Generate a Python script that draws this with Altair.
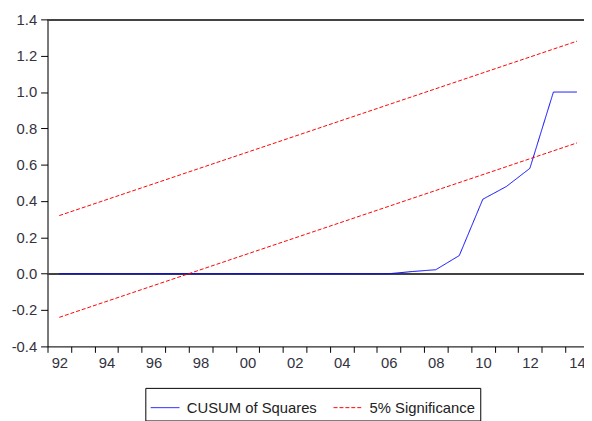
import altair as alt
import pandas as pd

# Annual observations
years = list(range(1992, 2015))
cusum_sq = [0.0, 0.0, 0.0, 0.0, 0.0, 0.0, 0.0, 0.0, 0.0, 0.0,
            0.0, 0.0, 0.0, 0.0, 0.0,
            0.012, 0.022, 0.10, 0.41, 0.48, 0.58, 1.00, 1.00]

# 5% significance bounds (straight lines)
sig_years = [1992, 2014]
sig_upper = [0.32, 1.28]
sig_lower = [-0.24, 0.72]

y_ticks = [-0.4, -0.2, 0.0, 0.2, 0.4, 0.6, 0.8, 1.0, 1.2, 1.4]

S1 = "CUSUM of Squares"
S2 = "5% Significance"

rows = []
for yr, v in zip(years, cusum_sq):
    rows.append({"year": yr, "value": v, "series": S1, "line": "cusum"})
for yr, v in zip(sig_years, sig_upper):
    rows.append({"year": yr, "value": v, "series": S2, "line": "upper"})
for yr, v in zip(sig_years, sig_lower):
    rows.append({"year": yr, "value": v, "series": S2, "line": "lower"})
df = pd.DataFrame(rows)

FONT = "Liberation Sans"
W, H = 543, 331

xscale = alt.Scale(domain=[1992, 2014.8], nice=False, zero=False)
yscale = alt.Scale(domain=[-0.4, 1.4], nice=False)

x_axis = alt.Axis(
    values=years,
    labelExpr="datum.value % 2 == 0 ? format(datum.value % 100, '02d') : ''",
    labelOffset=12, labelFlush=False, labelOverlap=False, grid=False,
    tickSize=6, tickColor="black", domainColor="black",
    labelFontSize=15, labelColor="#333340", labelFont=FONT, labelPadding=3,
    title=None,
)
y_axis = alt.Axis(
    values=y_ticks,
    labelExpr="(datum.value < -0.001 ? '-' : '') + format(abs(datum.value), '.1f')",
    grid=False, tickSize=7,
    labelOverlap=False, labelFlush=False,
    tickColor="black", domainColor="black", labelFontSize=15,
    labelColor="#333340", labelFont=FONT, labelPadding=4, title=None,
)

legend = alt.Legend(
    title=None, orient="none", legendX=99, legendY=373,
    direction="horizontal", strokeColor="black",
    padding=5, symbolSize=841, symbolStrokeWidth=1,
    labelFontSize=15, labelFont=FONT, labelColor="#222222",
    labelOffset=7, columnPadding=14, symbolType="stroke",
)

zero_rule = alt.Chart(df).mark_rule(color="#444444", strokeWidth=1).encode(
    y=alt.YDatum(0.0, scale=yscale, axis=y_axis), yOffset=alt.value(0.5)
)
top_rule = alt.Chart(df).mark_rule(color="#444444", strokeWidth=1).encode(
    y=alt.YDatum(1.4, scale=yscale, axis=y_axis), yOffset=alt.value(0.5)
)

lines = alt.Chart(df).transform_calculate(
    xpos="datum.year + 0.5"
).mark_line(strokeWidth=1, clip=True).encode(
    x=alt.X("xpos:Q", scale=xscale, axis=x_axis),
    y=alt.Y("value:Q", scale=yscale, axis=y_axis),
    color=alt.Color("series:N",
                    scale=alt.Scale(domain=[S1, S2], range=["#0000ff", "#ff0000"]),
                    legend=legend),
    strokeDash=alt.StrokeDash("series:N",
                              scale=alt.Scale(domain=[S1, S2], range=[[1, 0], [4, 2]]),
                              legend=legend),
    detail="line:N",
    order="year:Q",
)

chart = alt.layer(zero_rule, top_rule, lines).properties(
    width=W, height=H,
    autosize=alt.AutoSizeParams(type="none"),
    padding={"left": 40, "top": 9, "right": 0, "bottom": 73},
).configure_view(stroke=None).configure(font=FONT)

chart.save("out.html", embed_options={"renderer": "svg", "actions": False})
